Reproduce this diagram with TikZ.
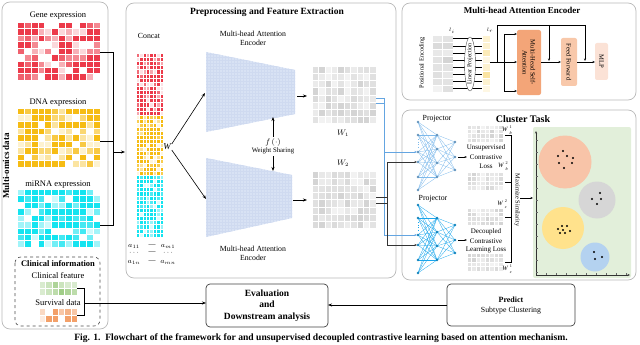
\documentclass[tikz,border=0pt]{standalone}
\usepackage{fontspec}
\setmainfont{Liberation Serif}
\usetikzlibrary{arrows.meta,calc,shapes.geometric}
\definecolor{panelgray}{RGB}{185,185,185}
\definecolor{genered}{RGB}{236,58,74}
\definecolor{dnayel}{RGB}{246,188,20}
\definecolor{mircyan}{RGB}{20,228,240}
\definecolor{clingreen}{RGB}{160,205,135}
\definecolor{survorange}{RGB}{243,160,105}
\definecolor{encblue}{RGB}{216,226,244}
\definecolor{encgrid}{RGB}{207,218,240}
\definecolor{projA}{RGB}{125,185,235}
\definecolor{projB}{RGB}{25,165,235}
\definecolor{linkblue}{RGB}{100,165,225}
\definecolor{plotgreen}{RGB}{226,239,218}
\definecolor{cOrange}{RGB}{248,196,168}
\definecolor{cGray}{RGB}{214,214,214}
\definecolor{cYellow}{RGB}{255,226,140}
\definecolor{cBlue}{RGB}{180,210,240}
\definecolor{mhsa}{RGB}{243,165,120}
\definecolor{ffc}{RGB}{248,200,170}
\definecolor{mlpc}{RGB}{251,226,214}
\pgfmathdeclarerandomlist{redlv}{{100}{100}{100}{100}{80}{60}{40}{20}{0}}
\pgfmathdeclarerandomlist{conlv}{{100}{100}{100}{100}{100}{75}{45}{15}}
\pgfmathdeclarerandomlist{graylv}{{5}{8}{11}{14}{17}{9}{12}}
\pgfmathdeclarerandomlist{lightlv}{{12}{20}{30}{40}}
\pgfmathdeclarerandomlist{greenlv}{{100}{85}{70}{55}{40}}
\newcommand{\hmap}[9]{%
  \pgfmathsetseed{#9}%
  \foreach \ci in {0,...,#3}{\foreach \ri in {0,...,#4}{%
    \pgfmathrandomitem{\hp}{#8}%
    \filldraw[fill=#7!\hp!white,draw=white,line width=0.25pt] ({#1+\ci*#5},{#2+\ri*#6}) rectangle ++(#5,#6);
  }}}
\newcommand{\wlab}[2]{\textit{W}\hspace{1.6pt}\rlap{\raisebox{3.4pt}{\fontsize{4.2}{4}\selectfont #2}}\raisebox{-2.6pt}{\fontsize{4.2}{4}\selectfont\itshape #1}\hspace{1.2pt}}
\newcommand{\projnet}[3]{%
  \foreach \a in {0,13,30,40,55,68}{\foreach \b in {13,27,41,55}{\draw[#2,line width=0.3pt] (418,{#1+\a}) -- (437,{#1+\b});}}
  \foreach \b in {13,27,41,55}{\foreach \c in {20,35,48}{\draw[#2,line width=0.3pt] (437,{#1+\b}) -- (455,{#1+\c});}}
  \foreach \a in {0,13,30,40,55,68}{\fill[#2!80!black] (418,{#1+\a}) circle (1.4);}
  \foreach \b in {13,27,41,55}{\fill[#2!80!black] (437,{#1+\b}) circle (1.4);}
  \foreach \c in {20,35,48}{\fill[#2!80!black] (455,{#1+\c}) circle (1.4);}
  \draw[#2,dotted,line width=0.5pt] (418,{#1+17}) -- (418,{#1+26});
  \coordinate (#3in1) at (417,{#1+30});
  \coordinate (#3in2) at (417,{#1+40});
  \coordinate (#3o) at (458,{#1+35});
  \coordinate (#3e) at (467,{#1+35});
  \draw[-{Stealth[length=2.5pt]},black,line width=0.4pt] (#3o) -- (#3e);
}
\begin{document}
\begin{tikzpicture}[x=1pt,y=-1pt,
  every node/.style={inner sep=0pt,outer sep=0pt},
  panel/.style={draw=panelgray,line width=0.7pt,rounded corners=8pt},
  arr/.style={-{Stealth[length=4pt,width=3pt]},line width=0.6pt},
  sarr/.style={-{Stealth[length=2.5pt,width=2pt]},line width=0.4pt},
  f9/.style={font=\fontsize{8.5}{9}\selectfont},
  f8/.style={font=\fontsize{7.8}{9}\selectfont},
  f7/.style={font=\fontsize{7}{8}\selectfont},
  f6/.style={font=\fontsize{6.3}{7}\selectfont},
  bt/.style={font=\fontsize{9.5}{11}\selectfont\bfseries},
  box/.style={draw=black!75,line width=0.7pt,rounded corners=4pt,align=center}]
\useasboundingbox (0,0) rectangle (640,345);

% ---------------- left panel
\draw[panel] (2,2) rectangle (108,329);
\node[rotate=90,font=\fontsize{9}{10}\selectfont\bfseries] (mo) at (6,166) {Multi-omics data};
\node[f9] (tg) at (58,16) {Gene expression};
\hmap{17}{22}{11}{8}{6.9}{6.45}{genered}{redlv}{3}
\node[f9] (td) at (58,103) {DNA expression};
\hmap{17}{108}{11}{8}{6.9}{6.55}{dnayel}{redlv}{5}
\node[f9] (tm) at (58,185) {miRNA expression};
\hmap{17}{189}{11}{8}{6.9}{6.45}{mircyan}{redlv}{7}
\draw[dashed,black!70,line width=0.6pt,rounded corners=6pt] (15,257) rectangle (100,326);
\node[font=\fontsize{8.5}{9}\selectfont\bfseries] (ci) at (58,264) {Clinical information};
\node[f9] (cf) at (58,276) {Clinical feature};
\hmap{39}{281}{5}{1}{6.4}{7}{clingreen}{greenlv}{9}
\node[f9] (sd) at (58,303) {Survival data};
\hmap{39}{308}{5}{1}{6.4}{7}{survorange}{redlv}{13}
% brackets
\coordinate (gR) at (100,52); \coordinate (dR) at (100,141); \coordinate (mR) at (100,225);
\coordinate (brT) at (113,52); \coordinate (brB) at (113,225);
\draw[line width=0.6pt] (gR) -- (brT) -- (brB) -- (mR);
\draw[line width=0.6pt] (dR) -- (113,141);
\coordinate (brA) at (113,152); \coordinate (concatIn) at (125,152);
\draw[arr] (brA) -- (concatIn);
\coordinate (cgR) at (77,288); \coordinate (csR) at (77,315);
\draw[line width=0.6pt] (cgR) -- (84,288) -- (84,315) -- (csR);

% ---------------- middle panel
\draw[panel] (126,3) rectangle (396,278);
\node[bt] (ptitle) at (267,12) {Preprocessing and Feature Extraction};
\node[f8] (concat) at (149,36) {Concat};
\hmap{136}{53}{7}{14}{3.4}{4.13}{genered}{conlv}{17}
\hmap{136}{115}{7}{14}{3.4}{4.0}{dnayel}{conlv}{19}
\hmap{136}{175}{7}{14}{3.4}{4.13}{mircyan}{conlv}{23}
\node[font=\fontsize{9}{10}\selectfont\itshape] (W) at (167,147) {W};
\node[f7] (a11) at (134,246) {$a_{11}$};
\node[f7] (ad1) at (152,246) {---};
\node[f7] (am1) at (168,246) {$a_{m1}$};
\node[f7] (b1) at (134,253) {$\cdots$};
\node[f7] (b2) at (152,253) {---};
\node[f7] (b3) at (168,253) {$\cdots$};
\node[f7] (a1n) at (134,262) {$a_{1n}$};
\node[f7] (ad2) at (152,262) {---};
\node[f7] (amn) at (168,262) {$a_{mn}$};
% encoders
\begin{scope}
\clip (206,52) -- (295,70) -- (295,114) -- (206,132) -- cycle;
\fill[encblue] (200,45) rectangle (300,140);
\draw[encgrid,line width=0.2pt,step=3pt] (200,45) grid (300,140);
\end{scope}
\begin{scope}
\clip (206,158) -- (292,175) -- (292,218) -- (206,237) -- cycle;
\fill[encblue] (200,150) rectangle (300,240);
\draw[encgrid,line width=0.2pt,step=3pt] (200,150) grid (300,240);
\end{scope}
\coordinate (enc1L) at (205,93); \coordinate (enc2L) at (206,199);
\node[f8,align=center] (enc1t) at (253,38) {Multi-head Attention\\Encoder};
\node[f8,align=center] (enc2t) at (253,253) {Multi-head Attention\\Encoder};
\draw[arr] (W.north east) ++(1,0) -- (enc1L);
\draw[arr] (W.south east) ++(1,0) -- (enc2L);
\node[f8] (fdot) at (273,142) {$f\,(\cdot)$};
\node[font=\fontsize{6.8}{8}\selectfont] (ws) at (273,151) {Weight Sharing};
\coordinate (enc1B) at (273,117); \coordinate (enc2T) at (273,171);
\draw[arr] (fdot.north) ++(0,-1) -- (enc1B);
\draw[arr] (ws.south) ++(0,2) -- (enc2T);
\hmap{312}{66}{9}{7}{6.4}{7.2}{black}{graylv}{29}
\hmap{312}{171}{9}{7}{6.4}{7.15}{black}{graylv}{31}
\coordinate (enc1R) at (297,96); \coordinate (w1L) at (307,96);
\coordinate (enc2R) at (293,200); \coordinate (w2L) at (307,200);
\draw[arr] (enc1R) -- (w1L);
\draw[arr] (enc2R) -- (w2L);
\node[f8] (w1lab) at (343,133) {$W_1$};
\node[f8] (w2lab) at (343,163) {$W_2$};

% ---------------- top right panel
\draw[panel] (402,3) rectangle (636,100);
\node[font=\fontsize{9}{10}\selectfont\bfseries] (atitle) at (522,10) {Multi-head Attention Encoder};
\node[f6,rotate=90] (pe) at (422,63) {Positional Encoding};
\hmap{432}{35}{1}{7}{10.5}{7.15}{black}{graylv}{37}
\node[font=\fontsize{3.5}{4}\selectfont] (li) at (452,31) {$l_i$};
\foreach \k in {0,...,7}{
  \draw[line width=0.35pt] (453,{38.6+\k*7.15}) -- (482,{38.6+\k*7.15});
}
\node[draw=black!70,fill=white,ellipse,minimum width=11pt,minimum height=54pt,line width=0.4pt] (lp) at (470,64) {};
\node[font=\fontsize{6}{7}\selectfont,rotate=90] (lpt) at (470,64) {Linear Projection};
\hmap{482}{35}{0}{7}{8}{7.15}{dnayel}{lightlv}{41}
\node[font=\fontsize{3.5}{4}\selectfont] (lr) at (490,30) {$l_r$};
\node[draw=none,fill=mhsa,rounded corners=2pt,minimum width=24pt,minimum height=65pt] (mh) at (529,62.5) {};
\node[font=\fontsize{6.6}{8}\selectfont,rotate=-90,align=center] (mht) at (529,62.5) {Multi-Head Self-\\Attention};
\node[draw=none,fill=ffc,rounded corners=2pt,minimum width=16pt,minimum height=48pt] (ff) at (569,62) {};
\node[font=\fontsize{6.6}{8}\selectfont,rotate=-90] (fft) at (569,62) {Feed Forward};
\node[draw=none,fill=mlpc,rounded corners=2pt,minimum width=13pt,minimum height=37pt] (mlp) at (601.5,61.5) {};
\node[font=\fontsize{6.6}{8}\selectfont,rotate=-90] (mlpt) at (601.5,61.5) {MLP};
\coordinate (yo) at (490,62);
\draw[line width=0.4pt] (yo) -- (504,62);
\draw[line width=0.4pt] (497,62) -- (497,25) -- (585,25);
\draw[line width=0.4pt] (504,34) -- (504,91);
\draw[sarr] (504,34) -- (mh.west |- 0,34);
\draw[sarr] (504,62) -- (mh.west |- 0,62);
\draw[sarr] (504,91) -- (mh.west |- 0,91);
\draw[sarr] (mh.east |- 0,62) -- (ff.west |- 0,62);
\draw[sarr] (ff.east |- 0,62) -- (mlp.west |- 0,62);
\draw[sarr] (549,25) -- (549,61);
\draw[sarr] (585,25) -- (585,61);

% ---------------- cluster panel
\draw[panel] (402,110) rectangle (636,280);
\node[font=\fontsize{10}{11}\selectfont\bfseries] (ctitle) at (523,119) {Cluster Task};
\node[f8] (pj1) at (437,119) {Projector};
\node[f8] (pj2) at (433,199) {Projector};
\projnet{122}{projA}{pA}
\projnet{205}{projB}{pB}
% W connectors
\coordinate (w1a) at (376,98); \coordinate (w1b) at (376,103);
\coordinate (w2a) at (376,197); \coordinate (w2b) at (376,203);
\draw[linkblue,line width=0.6pt] (w1a) -- (384,98) (w1b) -- (384,103);
\draw[linkblue,line width=0.6pt] (384,98) -- (384,235);
\draw[linkblue,sarr] (384,152) -- (pAin1);
\draw[linkblue,sarr] (384,235) -- (pBin1);
\draw[black!80,line width=0.6pt] (w2a) -- (387,197) (w2b) -- (387,203);
\draw[black!80,line width=0.6pt] (387,162) -- (387,245);
\draw[black!80,sarr] (387,162) -- (pAin2);
\draw[black!80,sarr] (387,245) -- (pBin2);
% small W matrices
\hmap{467}{125}{7}{3}{4.5}{4.3}{black}{graylv}{43}
\hmap{467}{172}{7}{3}{4.5}{4.5}{black}{graylv}{47}
\hmap{467}{208}{7}{3}{4.5}{4.3}{black}{graylv}{53}
\hmap{467}{253}{7}{3}{4.5}{4.5}{black}{graylv}{59}
\node[font=\fontsize{6.5}{7}\selectfont] (wb1) at (507,130) {\wlab{b}{1}};
\node[font=\fontsize{6.5}{7}\selectfont] (wb2) at (503,166) {\wlab{b}{2}};
\node[font=\fontsize{6.5}{7}\selectfont] (wc2) at (502,204) {\wlab{c}{2}};
\node[font=\fontsize{6.5}{7}\selectfont] (wc1) at (507,269) {\wlab{c}{1}};
\node[f7,fill=white,inner sep=0.5pt] (ucl1) at (486,148) {Unsupervised};
\node[f7,fill=white,inner sep=0.5pt] (ucl2) at (486,157) {Contrastive};
\node[f7,fill=white,inner sep=0.5pt] (ucl3) at (486,166) {Loss};
\node[f7,fill=white,inner sep=0.5pt] (dcl1) at (486,232) {Decoupled};
\node[f7,fill=white,inner sep=0.5pt] (dcl2) at (486,241) {Contrastive};
\node[f7,fill=white,inner sep=0.5pt] (dcl3) at (486,250) {Learning Loss};
\draw[line width=0.5pt] (505,135) -- (511,135) -- (511,262) -- (505,262);
\draw[line width=0.5pt] (505,182) -- (511,182) (505,217) -- (511,217);
\node[font=\fontsize{6.3}{7}\selectfont,rotate=-90] (ms) at (517,200) {Maximize Similarity};
\coordinate (msR) at (520,198); \coordinate (plotL) at (533,198);
\draw[sarr] (msR) -- (plotL);
% plot
\fill[plotgreen,rounded corners=2pt] (533,127) rectangle (631,278);
\coordinate (ax0) at (536,275); \coordinate (axY) at (536,131); \coordinate (axX) at (630,275);
\draw[sarr,black!80] (ax0) -- (axY);
\draw[sarr,black!80] (ax0) -- (axX);
\foreach \t in {140,152,...,272}{\draw[black!60,line width=0.3pt] (536,\t) -- (538,\t);}
\foreach \t in {546,556,...,626}{\draw[black!60,line width=0.3pt] (\t,275) -- (\t,273);}
\node[circle,fill=cOrange,minimum size=53pt] (c1) at (565,162) {};
\node[circle,fill=cGray,minimum size=37pt] (c2) at (597,200) {};
\node[circle,fill=cYellow,minimum size=42pt] (c3) at (563,228) {};
\node[circle,fill=cBlue,minimum size=29pt] (c4) at (595,257) {};
\foreach \p in {(563,151),(558,156),(567,156),(573,158),(559,163),(564,168),(572,163),
  (600,193),(592,199),(601,199),(597,204),
  (562,226),(567,226),(558,229),(563,230),(570,231),(560,233),(565,233),
  (594,252),(602,257),(595,259)}{\fill \p circle (1.2);}

% ---------------- bottom boxes
\node[box,minimum width=122pt,minimum height=43pt,font=\fontsize{9.5}{11.5}\selectfont\bfseries] (eval) at (267,305.5) {Evaluation\\and\\Downstream analysis};
\node[box,minimum width=128pt,minimum height=42pt] (pred) at (511,305) {};
\node[font=\fontsize{8}{9}\selectfont\bfseries] (predt) at (511,300) {Predict};
\node[f8] (subt) at (511,310.5) {Subtype Clustering};
\draw[arr] (84,303) -- (eval.west |- 0,303);
\draw[arr] (pred.west |- 0,305) -- (eval.east |- 0,305);

\node[font=\fontsize{9.6}{11}\selectfont\bfseries] (cap) at (321,338.5) {Fig. 1.\ \ Flowchart of the framework for and unsupervised decoupled contrastive learning based on attention mechanism.};
\end{tikzpicture}
\end{document}
